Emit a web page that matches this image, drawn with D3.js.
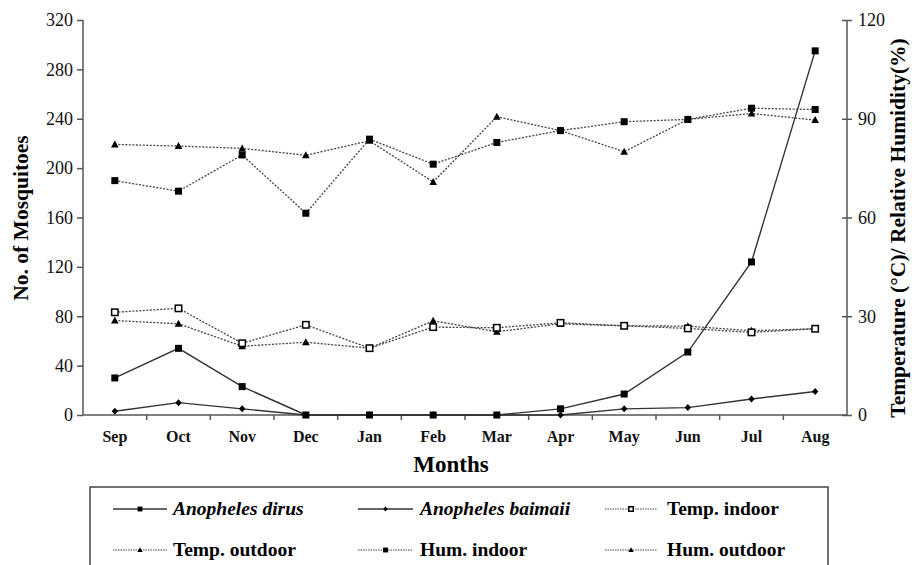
<!DOCTYPE html>
<html><head><meta charset="utf-8">
<script src="https://cdn.jsdelivr.net/npm/d3@7/dist/d3.min.js"></script>
<style>body{margin:0;background:#fff}svg{display:block}</style>
</head><body>
<svg id="c" width="912" height="565"></svg>
<script>
const months = ["Sep","Oct","Nov","Dec","Jan","Feb","Mar","Apr","May","Jun","Jul","Aug"];
const leftTicks = [0,40,80,120,160,200,240,280,320];
const rightTicks = [0,30,60,90,120];
const dirus   = [30,54,23,0,0,0,0,5,17,51,124,295];
const baimaii = [3,10,5,0,0,0,0,0,5,6,13,19];
const tempIn  = [31.2,32.4,21.8,27.4,20.3,26.7,26.5,28.0,27.1,26.3,25.1,26.2];
const tempOut = [28.7,27.7,20.9,22.1,20.3,28.6,25.3,27.7,27.1,27.0,25.6,26.2];
const humIn   = [71.2,68.0,79.0,61.3,83.8,76.2,82.8,86.4,89.1,89.8,93.2,92.8];
const humOut  = [82.2,81.7,81.0,78.9,83.3,70.8,90.6,86.4,80.0,89.8,91.6,89.6];

const FONT = "Liberation Serif, Times New Roman, Tinos, DejaVu Serif, Noto Serif, serif";
const svg = d3.select("#c").style("font-family", FONT);
const L = 83, R = 847, T = 20, B = 415;
const x = d3.scaleBand().domain(months).range([L, R]);
const xc = m => x(m) + x.bandwidth()/2;
const yL = d3.scaleLinear().domain([0,320]).range([B, T]);
const yR = d3.scaleLinear().domain([0,120]).range([B, T]);
const axisCol = "#555", lineCol = "#333";

const ax = svg.append("g").attr("transform", `translate(${L},0)`)
  .call(d3.axisLeft(yL).tickValues(leftTicks).tickSize(6).tickPadding(4));
const ar = svg.append("g").attr("transform", `translate(${R},0)`)
  .call(d3.axisRight(yR).tickValues(rightTicks).tickSize(5).tickPadding(6));
ar.selectAll(".tick line").attr("x1", -5);
const axb = svg.append("g").attr("transform", `translate(0,${B})`)
  .call(d3.axisBottom(x).tickSize(0).tickPadding(16));
[ax, ar, axb].forEach(g => g.attr("font-family", null));
ax.selectAll("text").style("font-family", FONT).attr("font-size", 18).attr("fill","#111");
ar.selectAll("text").style("font-family", FONT).attr("font-size", 18).attr("fill","#111");
axb.selectAll("text").style("font-family", FONT).attr("font-size", 16).attr("font-weight","bold").attr("fill","#111");
axb.selectAll(".bt").data(months.slice(1)).enter().append("line")
  .attr("x1", d => x(d)).attr("x2", d => x(d)).attr("y1", 0).attr("y2", 5).attr("stroke", axisCol);
[ax, ar, axb].forEach(g => { g.selectAll("path,line").attr("stroke", axisCol).attr("stroke-width", 1.5); });
axb.selectAll(".tick line").remove();
ax.select(".domain").attr("d", `M0,${T}V${B}`);
ar.select(".domain").attr("d", `M0,${T}V${B}`);
axb.select(".domain").attr("d", `M${L},0H${R}`);

svg.append("text").attr("x", 451).attr("y", 472).attr("text-anchor","middle").style("font-family", FONT)
  .attr("font-weight","bold").attr("font-size", 23).text("Months");
svg.append("text").attr("transform","translate(28,218) rotate(-90)").attr("text-anchor","middle").style("font-family", FONT)
  .attr("font-weight","bold").attr("font-size", 21.5).text("No. of Mosquitoes");
svg.append("text").attr("transform","translate(905,228) rotate(-90)").attr("text-anchor","middle").style("font-family", FONT)
  .attr("font-weight","bold").attr("font-size", 21.5).text("Temperature (°C)/ Relative Humidity(%)");

const series = [
  {name:"Anopheles dirus", vals:dirus, y:yL, dash:null, marker:"sq", italic:true},
  {name:"Anopheles baimaii", vals:baimaii, y:yL, dash:null, marker:"dia", italic:true},
  {name:"Temp. indoor", vals:tempIn, y:yR, dash:"2,1.5", marker:"osq"},
  {name:"Temp. outdoor", vals:tempOut, y:yR, dash:"2,1.5", marker:"tri"},
  {name:"Hum. indoor", vals:humIn, y:yR, dash:"2,1.5", marker:"sq"},
  {name:"Hum. outdoor", vals:humOut, y:yR, dash:"2,1.5", marker:"tri"}
];

function drawMarker(g, type, cx, cy, s) {
  s = s || 1;
  if (type === "sq") g.append("rect").attr("x", cx-3.5*s).attr("y", cy-3.5*s).attr("width", 7*s).attr("height", 7*s).attr("fill", "#000");
  else if (type === "osq") g.append("rect").attr("x", cx-3.2*s).attr("y", cy-3.2*s).attr("width", 6.4*s).attr("height", 6.4*s).attr("fill", "#fff").attr("stroke","#000").attr("stroke-width",1.5);
  else if (type === "dia") g.append("path").attr("d", `M${cx},${cy-3.5*s}L${cx+3.2*s},${cy}L${cx},${cy+3.5*s}L${cx-3.2*s},${cy}Z`).attr("fill","#000");
  else if (type === "tri") g.append("path").attr("d", `M${cx},${cy-4*s}L${cx+3.8*s},${cy+3*s}L${cx-3.8*s},${cy+3*s}Z`).attr("fill","#000");
}

const line = d3.line();
series.slice().reverse().forEach(s => {
  const pts = s.vals.map((v,i) => [xc(months[i]), s.y(v)]);
  const g = svg.append("g");
  g.append("path").attr("d", line(pts)).attr("fill","none")
    .attr("stroke", s.dash ? "#444" : lineCol).attr("stroke-width", s.dash ? 1.3 : 1.4)
    .attr("stroke-dasharray", s.dash);
  pts.forEach(p => drawMarker(g, s.marker, p[0], p[1]));
});

svg.append("rect").attr("x", 90).attr("y", 487).attr("width", 738).attr("height", 100)
  .attr("fill","none").attr("stroke","#444").attr("stroke-width",1.5);
const cols = [[113,167,173],[358,413,420],[605,657,667]];
const rows = [509, 550];
series.forEach((s,i) => {
  const c = cols[i%3], ry = rows[Math.floor(i/3)];
  const g = svg.append("g");
  g.append("line").attr("x1", c[0]).attr("x2", c[1]).attr("y1", ry).attr("y2", ry)
    .attr("stroke", s.dash ? "#444" : lineCol).attr("stroke-width", s.dash ? 1 : 1.3).attr("stroke-dasharray", s.dash ? "1.5,1" : null);
  drawMarker(g, s.marker, (c[0]+c[1])/2, ry, 0.7);
  g.append("text").attr("x", c[2]).attr("y", ry+6).style("font-family", FONT).attr("font-weight","bold")
    .attr("font-style", s.italic ? "italic" : null).attr("font-size", 19.5).text(s.name);
});
</script>
</body></html>
